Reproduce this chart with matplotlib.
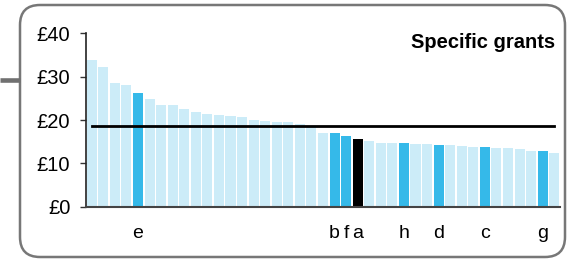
import matplotlib
matplotlib.use("Agg")
import matplotlib.pyplot as plt
from matplotlib.patches import FancyBboxPatch
from matplotlib.lines import Line2D

plt.rcParams['font.family'] = ['Liberation Sans', 'DejaVu Sans']

values = [33.85, 32.2, 28.5, 28.1, 26.2, 24.8, 23.5, 23.5, 22.5, 21.8,
          21.4, 21.15, 20.9, 20.7, 20.0, 19.8, 19.5, 19.5, 19.1, 18.4,
          17.0, 17.0, 16.3, 15.6, 15.2, 14.7, 14.7, 14.7, 14.45, 14.45,
          14.2, 14.2, 14.0, 13.8, 13.8, 13.5, 13.5, 13.3, 12.8, 12.8, 12.4]
highlight = {4: "e", 21: "b", 22: "f", 23: "a", 27: "h", 30: "d", 34: "c", 39: "g"}
selected = 23
average = 18.6
yticks = [0, 10, 20, 30, 40]
ytick_labels = ["£0", "£10", "£20", "£30", "£40"]
title = "Specific grants"

LIGHT = "#CCECF8"
DARK = "#35B9E9"

W, H = 574, 259
fig = plt.figure(figsize=(W / 100, H / 100), dpi=100)

# background frame in pixel coordinates
bg = fig.add_axes([0, 0, 1, 1])
bg.set_xlim(0, W)
bg.set_ylim(H, 0)
bg.axis("off")
frame = FancyBboxPatch((20, 5), 545, 252, boxstyle="round,pad=0,rounding_size=20",
                       fill=False, edgecolor="#777777", linewidth=1.8)
bg.add_patch(frame)
bg.add_line(Line2D([0, 20], [80, 80], color="#707070", linewidth=3.3, solid_capstyle="butt"))

ax = fig.add_axes([86 / W, (H - 206.7) / H, (560 - 86) / W, (206.7 - 33.3) / H])
x = list(range(len(values)))
colors = []
for i in x:
    if i == selected:
        colors.append("black")
    elif i in highlight:
        colors.append(DARK)
    else:
        colors.append(LIGHT)
ax.bar(x, values, width=0.87, color=colors, zorder=2)
ax.plot([x[0], x[-1]], [average, average], color="black", linewidth=2.0, zorder=3)

ax.set_xlim(-0.5, len(values) - 0.5)
ax.set_ylim(0, 40)
ax.set_yticks(yticks)
ax.set_yticklabels(ytick_labels)
tick_labels = [highlight.get(i, "") for i in x]
ax.set_xticks(x)
ax.set_xticklabels(tick_labels)
ax.tick_params(axis="x", length=0, pad=13, labelsize=14)
ax.tick_params(axis="y", length=4.3, width=1, pad=7, labelsize=14.5, color="#333333")
for s in ["top", "right"]:
    ax.spines[s].set_visible(False)
ax.spines["left"].set_color("#222222")
ax.spines["left"].set_linewidth(1.2)
ax.spines["bottom"].set_color("#444444")
ax.spines["bottom"].set_linewidth(1.5)
ax.patch.set_alpha(0)

fig.text(555 / W, 1 - 42 / H, title, ha="right", va="center", fontsize=14.5,
         fontweight="bold")

fig.savefig("out.png", dpi=100)
